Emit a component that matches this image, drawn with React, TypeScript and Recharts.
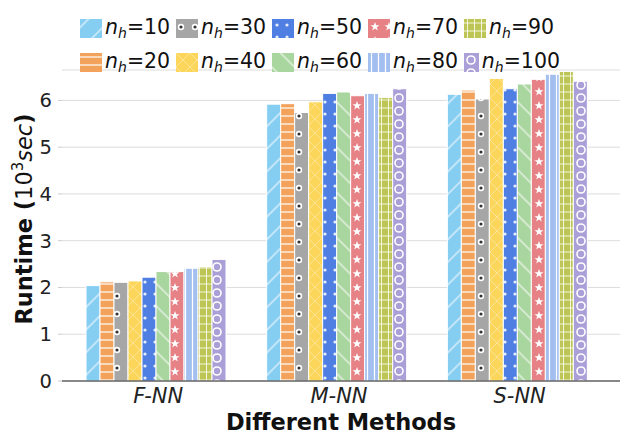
import React from "react";
import { Bar, BarChart, CartesianGrid, XAxis, YAxis } from "recharts";

const methods = ["F-NN", "M-NN", "S-NN"];
const hiddenSizes = [10, 20, 30, 40, 50, 60, 70, 80, 90, 100];

// runtime in 10^3 sec, one array per n_h, ordered F-NN, M-NN, S-NN
const runtime10 = [2.04, 5.92, 6.13];
const runtime20 = [2.12, 5.93, 6.22];
const runtime30 = [2.11, 5.74, 6.03];
const runtime40 = [2.14, 5.97, 6.47];
const runtime50 = [2.22, 6.15, 6.25];
const runtime60 = [2.34, 6.18, 6.35];
const runtime70 = [2.34, 6.1, 6.45];
const runtime80 = [2.41, 6.15, 6.56];
const runtime90 = [2.44, 6.06, 6.62];
const runtime100 = [2.6, 6.25, 6.41];
const yTicks = [0, 1, 2, 3, 4, 5, 6];

const allRuntimes = [
  runtime10, runtime20, runtime30, runtime40, runtime50,
  runtime60, runtime70, runtime80, runtime90, runtime100,
];

const colors = [
  "#86cdf2", "#f3a25c", "#a6a6a6", "#fbd65a", "#4f7fe2",
  "#a9d59f", "#e68185", "#a3bff0", "#bdc654", "#ab9fd8",
];

const data = methods.map((m, i) => {
  const row: Record<string, string | number> = { method: m };
  hiddenSizes.forEach((n, k) => (row["n" + n] = allRuntimes[k][i]));
  return row;
});

const FONT = "DejaVu Sans";
const W = "#ffffff";

function patternBody(k: number) {
  switch (k) {
    case 0: // "/"
      return <line x1="6" y1="0" x2="6" y2="20" stroke={W} strokeWidth={1} />;
    case 1: // "-"
      return <line x1="0" y1="4" x2="20" y2="4" stroke={W} strokeWidth={1.2} />;
    case 2: // "o"
      return <circle cx="5" cy="8" r="2.4" fill="#333" stroke={W} strokeWidth={1.6} />;
    case 3: // "x"
      return (
        <>
          <line x1="0" y1="0" x2="14" y2="14" stroke={W} strokeOpacity={0.35} />
          <line x1="14" y1="0" x2="0" y2="14" stroke={W} strokeOpacity={0.35} />
        </>
      );
    case 4: // "."
      return <circle cx="5" cy="6" r="1.6" fill={W} fillOpacity={0.85} />;
    case 5: // "\"
      return <line x1="6" y1="0" x2="6" y2="20" stroke={W} strokeWidth={1} />;
    case 6: // "*"
      return (
        <path
          d="M7 3 L8.2 6.2 L11.5 6.2 L8.8 8.2 L9.8 11.4 L7 9.4 L4.2 11.4 L5.2 8.2 L2.5 6.2 L5.8 6.2 Z"
          fill={W}
        />
      );
    case 7: // "|"
      return <line x1="3.5" y1="0" x2="3.5" y2="20" stroke={W} strokeWidth={1.2} />;
    case 8: // "+"
      return (
        <>
          <line x1="0" y1="4" x2="20" y2="4" stroke={W} strokeWidth={1} strokeOpacity={0.8} />
          <line x1="3.5" y1="0" x2="3.5" y2="20" stroke={W} strokeWidth={1} strokeOpacity={0.8} />
        </>
      );
    default: // "O"
      return <circle cx="7" cy="7" r="4" fill="none" stroke={W} strokeWidth={1.6} />;
  }
}

const patternSize: [number, number][] = [
  [16, 20], [20, 8], [14, 18], [14, 14], [10, 12],
  [16, 20], [14, 14], [7, 20], [7, 8], [14, 13],
];
const patternRotate = [45, 0, 0, 0, 0, -45, 0, 0, 0, 0];

function Patterns() {
  return (
    <defs>
      {hiddenSizes.map((n, k) => (
        <pattern
          key={n}
          id={"hatch" + n}
          patternUnits="userSpaceOnUse"
          width={patternSize[k][0]}
          height={patternSize[k][1]}
          patternTransform={patternRotate[k] ? `rotate(${patternRotate[k]})` : undefined}
        >
          <rect width={patternSize[k][0]} height={patternSize[k][1]} fill={colors[k]} />
          {patternBody(k)}
        </pattern>
      ))}
    </defs>
  );
}

function NhLabel({ n }: { n: number }) {
  return (
    <span style={{ fontFamily: FONT, fontSize: 20.5, color: "#111", whiteSpace: "nowrap" }}>
      <i>n</i>
      <i style={{ fontSize: 14, verticalAlign: -4 }}>h</i>=
      {n}
    </span>
  );
}

function LegendBox() {
  // matplotlib ncol=5 fills column-wise: row 1 = 10,30,...; row 2 = 20,40,...
  return (
    <div style={{ position: "absolute", left: 80, top: 14 }}>
      {[0, 1].map((r) => (
        <div key={r} style={{ display: "flex", height: 34 }}>
          {[0, 1, 2, 3, 4].map((c) => {
            const k = c * 2 + r;
            return (
              <div key={c} style={{ display: "flex", alignItems: "center", width: 96, height: 28 }}>
                <svg width={22} height={19} style={{ marginRight: 3 }}>
                  <rect width={22} height={19} fill={`url(#hatch${hiddenSizes[k]})`} />
                </svg>
                <NhLabel n={hiddenSizes[k]} />
              </div>
            );
          })}
        </div>
      ))}
    </div>
  );
}

export default function App() {
  return (
    <div style={{ position: "absolute", left: 0, top: 0, width: 625, height: 442, background: "#fff" }}>
      <BarChart
        width={625}
        height={442}
        data={data}
        margin={{ top: 70, right: 5, left: 0, bottom: 0 }}
        barCategoryGap={18}
        barGap={0}
      >
        <Patterns />
        <CartesianGrid vertical={false} stroke="#dddddd" />
        <XAxis
          dataKey="method"
          height={61}
          padding={{ left: 6, right: 10 }}
          tickLine={false}
          axisLine={{ stroke: "#222", strokeWidth: 1.2 }}
          tickMargin={1}
          tick={{ fill: "#222", fontSize: 21, fontStyle: "italic", fontFamily: FONT }}
          label={{
            value: "Different Methods",
            position: "insideBottom",
            offset: 12,
            fill: "#111",
            fontSize: 22.5,
            fontWeight: "bold",
            fontFamily: FONT,
          }}
        />
        <YAxis
          width={62}
          domain={[0, 6.65]}
          ticks={yTicks}
          allowDataOverflow
          axisLine={false}
          tickLine={{ stroke: "#cccccc" }}
          tickSize={4}
          tickMargin={6}
          tick={{ fill: "#222", fontSize: 19.5, fontFamily: FONT }}
          label={() => (
            <text
              transform="translate(32,219) rotate(-90)"
              textAnchor="middle"
              fontFamily={FONT}
              fontSize={22.5}
              fill="#111"
            >
              <tspan fontWeight="bold">Runtime (</tspan>
              <tspan>10</tspan>
              <tspan fontSize={15} dy={-9}>3</tspan>
              <tspan fontStyle="italic" dy={9}>sec</tspan>
              <tspan fontWeight="bold">)</tspan>
            </text>
          )}
        />
        {hiddenSizes.map((n) => (
          <Bar
            key={n}
            dataKey={"n" + n}
            fill={`url(#hatch${n})`}
            stroke="#fff"
            strokeWidth={1}
            isAnimationActive={false}
          />
        ))}
      </BarChart>
      <LegendBox />
    </div>
  );
}
